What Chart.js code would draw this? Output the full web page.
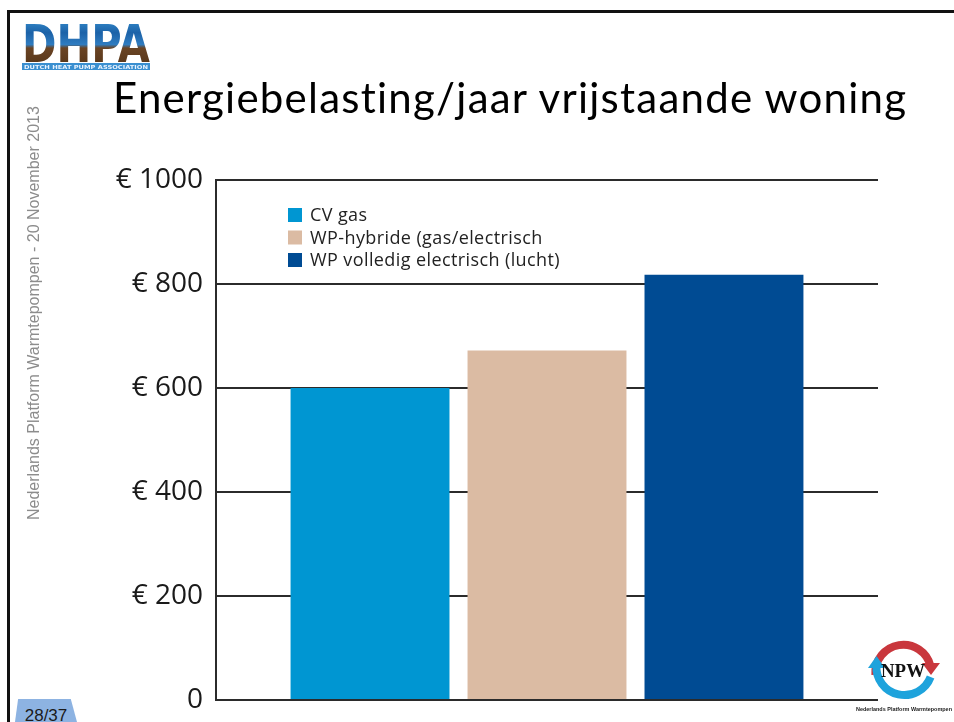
<!DOCTYPE html>
<html>
<head>
<meta charset="utf-8">
<title>Energiebelasting/jaar vrijstaande woning</title>
<script src="https://cdn.jsdelivr.net/npm/chart.js@4.4.1/dist/chart.umd.min.js"></script>
<style>
html,body{margin:0;padding:0;background:#fff;}
#slide{position:relative;width:954px;height:722px;overflow:hidden;background:#fff;}
#chartBox{position:absolute;left:0;top:0;}
.frameTop{position:absolute;left:7px;top:10px;width:947px;height:3px;background:#111;}
.frameLeft{position:absolute;left:7px;top:10px;width:3px;height:712px;background:#111;}
#title{position:absolute;left:113px;top:76px;font-family:Lato,sans-serif;font-size:42px;line-height:42px;color:#000;white-space:nowrap;}
#sideText{position:absolute;left:26px;top:520px;transform-origin:0 0;transform:rotate(-90deg);font-family:"Liberation Sans",Arial,sans-serif;font-size:16px;line-height:15px;color:#8c8c8c;white-space:nowrap;}
#pageNr{position:absolute;left:15px;top:699px;width:62px;height:23px;background:#8db3e2;clip-path:polygon(5% 0,90% 0,100% 100%,0 100%);}
#pageNr span{position:absolute;left:0;width:62px;top:8px;text-align:center;font-family:"Liberation Sans",Arial,sans-serif;font-size:17px;line-height:17px;color:#1a1a1a;}
#dhpa{position:absolute;left:20px;top:22px;}
#npw{position:absolute;left:852px;top:630px;}
</style>
</head>
<body>
<div id="slide">
  <canvas id="chartBox" width="954" height="722"></canvas>
  <div class="frameTop"></div>
  <div class="frameLeft"></div>

  <svg id="dhpa" width="136" height="52">
    <defs>
      <linearGradient id="dhpaFill" x1="0" y1="0" x2="0" y2="1">
        <stop offset="0" stop-color="#3b98d6"/>
        <stop offset="0.3" stop-color="#1c62a8"/>
        <stop offset="0.5" stop-color="#2f7cc0"/>
        <stop offset="0.56" stop-color="#6a4424"/>
        <stop offset="1" stop-color="#4e2f15"/>
      </linearGradient>
    </defs>
    <text x="2" y="40" font-family="DejaVu Sans" font-weight="bold" font-size="51" textLength="128" lengthAdjust="spacingAndGlyphs" fill="url(#dhpaFill)">DHPA</text>
    <rect x="2" y="41" width="128" height="7" fill="#3a8fd0"/>
    <text x="4" y="47" font-family="DejaVu Sans" font-weight="bold" font-size="5.5" textLength="124" lengthAdjust="spacingAndGlyphs" fill="#e8f3ff">DUTCH HEAT PUMP ASSOCIATION</text>
  </svg>

  <div id="title">Energiebelasting/jaar vrijstaande woning</div>
  <div id="sideText">Nederlands Platform Warmtepompen - 20 November 2013</div>
  <div id="pageNr"><span>28/37</span></div>

  <svg id="npw" width="102" height="90">
    <path d="M 23.4 44.7 A 28 28 0 0 1 78.5 36" fill="none" stroke="#c9373d" stroke-width="8"/>
    <polygon points="70,33 88,33 79,45" fill="#c9373d"/>
    <path d="M 78.6 47 A 28 28 0 0 1 24.5 35" fill="none" stroke="#1ea3dc" stroke-width="8"/>
    <polygon points="16,38 33,38 24.5,26" fill="#1ea3dc"/>
    <text x="51" y="47" text-anchor="middle" font-family="Liberation Serif" font-weight="bold" font-size="19" textLength="44" lengthAdjust="spacingAndGlyphs" fill="#111">NPW</text>
    <text x="4" y="81" font-family="Liberation Sans" font-weight="bold" font-size="5" textLength="96" lengthAdjust="spacingAndGlyphs" fill="#222">Nederlands Platform Warmtepompen</text>
  </svg>
</div>

<script>
'use strict'
// data
let categories = ['CV gas', 'WP-hybride (gas/electrisch', 'WP volledig electrisch (lucht)'];
let costs = [600, 672, 818];
let tickValues = [0, 200, 400, 600, 800, 1000];
let tickLabels = ['0', '€ 200', '€ 400', '€ 600', '€ 800', '€ 1000'];

let barColors = ['#0096d2', '#dbbba3', '#004b93'];

// stretch the title so it spans the same width as on the slide
let titleEl = document.getElementById('title');
let titleText = titleEl.textContent;
let spread = (795 - titleEl.getBoundingClientRect().width) / titleText.length;
titleEl.style.letterSpacing = spread.toFixed(2) + 'px';

// legend drawn inside the plot, top left
let legendBox = {
    id: 'legendBox',
    afterDatasetsDraw(chart) {
        let ctx = chart.ctx;
        let area = chart.chartArea;
        let x = area.left + 72;
        let y = area.top + 35;
        ctx.save();
        ctx.font = '18px "Open Sans"';
        ctx.letterSpacing = '0.4px';
        ctx.textBaseline = 'middle';
        chart.data.datasets.forEach(function (ds, i) {
            let cy = y + i * 22.5;
            ctx.fillStyle = ds.backgroundColor;
            ctx.fillRect(x, cy - 7, 14, 14);
            ctx.fillStyle = '#222';
            ctx.fillText(ds.label, x + 22, cy + 1);
        });
        ctx.restore();
    }
};

let datasets = [];
for (let i = 0; i < categories.length; i++) {
    datasets.push({
        label: categories[i],
        data: [costs[i]],
        backgroundColor: barColors[i],
        borderWidth: 0,
        categoryPercentage: 0.802,
        barPercentage: 0.898
    });
}

let ctx = document.getElementById('chartBox').getContext('2d');
let myChart = new Chart(ctx, {
    type: 'bar',
    data: {
        labels: [''],
        datasets: datasets
    },
    options: {
        responsive: false,
        maintainAspectRatio: false,
        animation: false,
        devicePixelRatio: 1,
        layout: {
            padding: { left: 100, right: 76, top: 180, bottom: 22 }
        },
        plugins: {
            legend: { display: false },
            tooltip: { enabled: false }
        },
        scales: {
            x: {
                display: false
            },
            y: {
                min: 0,
                max: 1000,
                afterBuildTicks: function (scale) {
                    scale.ticks = tickValues.map(function (v) { return { value: v }; });
                },
                afterFit: function (scale) {
                    scale.width = 116;
                    scale.paddingTop = 0;
                    scale.paddingBottom = 0;
                },
                ticks: {
                    padding: 13,
                    color: '#1a1a1a',
                    font: { family: 'Open Sans', size: 28 },
                    callback: function (value) {
                        return tickLabels[tickValues.indexOf(value)];
                    }
                },
                grid: {
                    color: '#2b2b2b',
                    lineWidth: 2,
                    drawTicks: false
                },
                border: {
                    display: true,
                    color: '#2b2b2b',
                    width: 2
                }
            }
        }
    },
    plugins: [legendBox]
});
</script>
</body>
</html>
